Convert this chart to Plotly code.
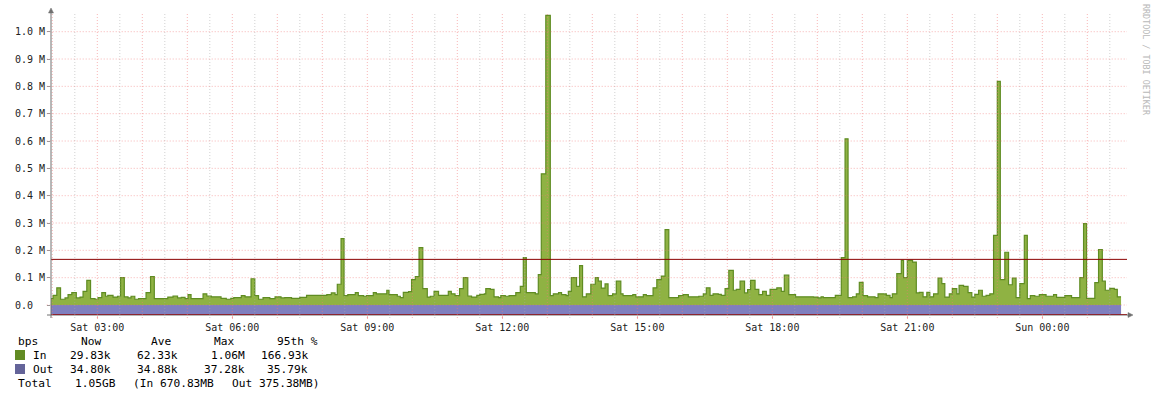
import plotly.graph_objects as go

# ---- data (time in minutes since Sat 00:00, values in kbit/s) ----
in_t = [115, 121, 126, 131, 137, 141, 146, 152, 157, 161, 166, 171, 177, 181, 186, 191, 194, 201, 207, 211,
        216, 221, 225, 230, 235, 245, 251, 256, 274, 281, 287, 292, 297, 301, 305, 321, 326, 332, 345, 352,
        358, 362, 372, 377, 385, 390, 395, 401, 410, 417, 425, 430, 439, 450, 459, 486, 492, 497, 500, 505,
        509, 514, 524, 528, 535, 539, 548, 552, 566, 569, 580, 584, 588, 595, 599, 604, 609, 614, 620, 624,
        629, 635, 648, 652, 657, 663, 668, 674, 679, 686, 690, 696, 698, 704, 709, 715, 718, 724, 729, 738,
        744, 748, 752, 764, 768, 772, 778, 784, 788, 795, 799, 805, 808, 812, 819, 823, 827, 832, 838, 844,
        848, 852, 857, 861, 867, 872, 878, 881, 894, 898, 908, 912, 921, 926, 932, 937, 942, 955, 961, 968,
        982, 988, 992, 997, 1001, 1008, 1012, 1017, 1022, 1028, 1032, 1037, 1043, 1047, 1051, 1057, 1062, 1067, 1072, 1077,
        1086, 1092, 1096, 1102, 1111, 1135, 1141, 1145, 1148, 1164, 1172, 1177, 1181, 1187, 1192, 1196, 1201, 1207, 1217, 1221,
        1232, 1237, 1240, 1246, 1252, 1255, 1260, 1267, 1272, 1276, 1281, 1286, 1290, 1295, 1301, 1306, 1310, 1316, 1320, 1326,
        1329, 1335, 1341, 1346, 1350, 1355, 1360, 1365, 1370, 1375, 1380, 1384, 1390, 1395, 1400, 1405, 1410, 1416, 1420, 1424,
        1430, 1436, 1445, 1455, 1459, 1470, 1479, 1490, 1495, 1499, 1510, 1515, 1520, 1524, 1530, 1536, 1540]
in_v = [23, 35, 63, 21, 26, 38, 45, 26, 29, 50, 90, 23, 21, 27, 45, 32, 35, 29, 32, 100,
        30, 26, 32, 21, 23, 45, 104, 23, 29, 33, 26, 28, 23, 38, 23, 41, 33, 30, 24, 21,
        24, 27, 34, 30, 96, 34, 21, 27, 23, 30, 26, 27, 24, 28, 35, 38, 44, 38, 76, 243,
        34, 38, 45, 34, 32, 34, 45, 41, 54, 38, 32, 27, 46, 49, 93, 104, 210, 60, 29, 32,
        50, 35, 50, 41, 34, 60, 100, 33, 29, 35, 39, 41, 60, 57, 30, 27, 34, 32, 34, 45,
        68, 173, 45, 41, 111, 480, 1060, 34, 41, 45, 38, 34, 50, 100, 68, 144, 30, 41, 76, 100,
        87, 62, 77, 34, 41, 87, 41, 34, 38, 30, 38, 34, 63, 93, 106, 276, 27, 34, 38, 30,
        32, 41, 63, 35, 41, 39, 35, 60, 127, 54, 57, 87, 44, 56, 90, 57, 38, 50, 35, 57,
        63, 50, 109, 38, 30, 29, 26, 30, 27, 35, 173, 608, 27, 30, 41, 83, 34, 30, 27, 41,
        35, 27, 41, 115, 163, 100, 163, 157, 44, 46, 30, 46, 30, 41, 98, 78, 29, 41, 60, 41,
        72, 68, 45, 29, 39, 54, 32, 35, 41, 255, 818, 93, 193, 74, 98, 27, 78, 255, 23, 34,
        32, 38, 32, 38, 28, 34, 27, 100, 298, 24, 82, 203, 87, 54, 61, 57, 30]
in_end = 1545

out_t = [115, 400, 700, 1000, 1300]
out_v = [34.9, 35.1, 34.7, 35.0, 34.8]
out_end = 1545

p95_in = 166.93
p95_out = 35.79

x_tick_hours = [3, 6, 9, 12, 15, 18, 21, 24]
x_tick_labels = ["Sat 03:00", "Sat 06:00", "Sat 09:00", "Sat 12:00",
                 "Sat 15:00", "Sat 18:00", "Sat 21:00", "Sun 00:00"]
y_ticks = [0, 100, 200, 300, 400, 500, 600, 700, 800, 900, 1000]
y_tick_labels = ["0.0\u00a0\u00a0", "0.1 M", "0.2 M", "0.3 M", "0.4 M", "0.5 M",
                 "0.6 M", "0.7 M", "0.8 M", "0.9 M", "1.0 M"]

legend_header = ["bps", "Now", "Ave", "Max", "95th %"]
legend_in = ["In", "29.83k", "62.33k", "1.06M", "166.93k"]
legend_out = ["Out", "34.80k", "34.88k", "37.28k", "35.79k"]
legend_total = ["Total", "1.05GB", "(In 670.83MB", "Out 375.38MB)"]

# ---- styling ----
GREEN_FILL = "#8FB243"
GREEN_LINE = "#5F8C22"
GREEN_BOX = "#628B23"
PURPLE_FILL = "#7F7FBF"
PURPLE_BOX = "#646499"
MGRID = "rgba(240,120,120,0.55)"
GRID = "rgba(170,170,170,0.55)"
P95 = "#8B0000"
AXIS = "#707070"
MONO = "DejaVu Sans Mono"

X_RANGE = [1.9711, 25.882]
Y_RANGE = [-36.6, 1068.4]

L, R, T, B = 51, 1127, 13, 315
W, H = R - L, B - T


def px(x):
    return (x - L) / W


def py(y):
    return (B - y) / H


fig = go.Figure()

# Out (drawn below zero)
ox = [t / 60 for t in out_t] + [out_end / 60]
oy = [-v for v in out_v] + [-out_v[-1]]
fig.add_trace(go.Scatter(x=ox, y=oy, mode="lines", line=dict(shape="hv", width=0.5, color=PURPLE_FILL),
                         fill="tozeroy", fillcolor=PURPLE_FILL, hoverinfo="skip"))
# In
ix = [t / 60 for t in in_t] + [in_end / 60]
iy = in_v + [in_v[-1]]
fig.add_trace(go.Scatter(x=ix, y=iy, mode="lines", line=dict(shape="hv", width=1.2, color=GREEN_LINE),
                         fill="tozeroy", fillcolor=GREEN_FILL, hoverinfo="skip"))
# 95th percentile lines
fig.add_trace(go.Scatter(x=X_RANGE, y=[p95_in, p95_in], mode="lines",
                         line=dict(color=P95, width=1), hoverinfo="skip"))
fig.add_trace(go.Scatter(x=X_RANGE, y=[-p95_out, -p95_out], mode="lines",
                         line=dict(color=P95, width=1), hoverinfo="skip"))

shapes = []
# grid on top of the areas (as rrdtool does)
h = 2.0
while h <= X_RANGE[1]:
    col = MGRID if abs(h - round(h)) < 1e-9 else GRID
    shapes.append(dict(type="line", xref="x", yref="paper", x0=h, x1=h, y0=-0.01, y1=1,
                       line=dict(color=col, width=1, dash="1px,2px"), layer="above"))
    h += 0.5
for yv in y_ticks:
    shapes.append(dict(type="line", xref="paper", yref="y", x0=-0.004, x1=1, y0=yv, y1=yv,
                       line=dict(color=MGRID, width=1, dash="1px,2px"), layer="above"))
# axes with arrows
shapes.append(dict(type="line", xref="paper", yref="paper", x0=px(47), x1=px(1130), y0=py(315), y1=py(315),
                   line=dict(color=AXIS, width=1), layer="below"))
shapes.append(dict(type="line", xref="paper", yref="paper", x0=px(51), x1=px(51), y0=py(318), y1=py(11),
                   line=dict(color=AXIS, width=1), layer="above"))
shapes.append(dict(type="path", xref="paper", yref="paper",
                   path=f"M {px(48.5)} {py(13)} L {px(53.5)} {py(13)} L {px(51)} {py(8)} Z",
                   fillcolor=AXIS, line=dict(color=AXIS, width=0.5), layer="above"))
shapes.append(dict(type="path", xref="paper", yref="paper",
                   path=f"M {px(1128)} {py(312.5)} L {px(1128)} {py(317.5)} L {px(1133)} {py(315)} Z",
                   fillcolor=AXIS, line=dict(color=AXIS, width=0.5), layer="above"))
# legend colour boxes
shapes.append(dict(type="rect", xref="paper", yref="paper", x0=px(15), x1=px(25), y0=py(360), y1=py(350),
                   fillcolor=GREEN_BOX, line=dict(width=0)))
shapes.append(dict(type="rect", xref="paper", yref="paper", x0=px(15), x1=px(25), y0=py(374), y1=py(364),
                   fillcolor=PURPLE_BOX, line=dict(width=0)))

ann = []


def txt(s, x, y, anchor="left", size=11.2, color="#000000"):
    ann.append(dict(text=s, xref="paper", yref="paper", x=px(x), y=py(y), xanchor=anchor, yanchor="middle",
                    showarrow=False, font=dict(family=MONO, size=size, color=color)))


row_y = [341, 355, 369, 383]
txt(legend_header[0], 16, row_y[0])
for s, x in zip(legend_header[1:], [79, 149, 212, 275]):
    txt(s, x, row_y[0])
txt(legend_in[0], 31, row_y[1])
for s, x in zip(legend_in[1:], [113, 180, 247, 310]):
    txt(s, x, row_y[1], anchor="right")
txt(legend_out[0], 31, row_y[2])
for s, x in zip(legend_out[1:], [113, 180, 247, 310]):
    txt(s, x, row_y[2], anchor="right")
for s, x in zip(legend_total, [16, 72.5, 131, 230]):
    txt(s, x, row_y[3])

ann.append(dict(text="RRDTOOL / TOBI OETIKER", xref="paper", yref="paper", x=px(1146), y=py(60),
                xanchor="center", yanchor="middle", textangle=90, showarrow=False,
                font=dict(family=MONO, size=8.4, color="#B8B8B8")))

fig.update_layout(
    width=1156, height=397,
    margin=dict(l=L, r=1156 - R, t=T, b=397 - B, pad=0, autoexpand=False),
    paper_bgcolor="white", plot_bgcolor="white",
    showlegend=False,
    shapes=shapes, annotations=ann,
    xaxis=dict(range=X_RANGE, showgrid=False, zeroline=False, showline=False,
               tickmode="array", tickvals=x_tick_hours, ticktext=x_tick_labels,
               ticks="outside", ticklen=3, tickcolor=MGRID,
               tickfont=dict(family=MONO, size=10, color="#222222")),
    yaxis=dict(range=Y_RANGE, showgrid=False, zeroline=False, showline=False,
               tickmode="array", tickvals=y_ticks, ticktext=y_tick_labels,
               ticks="outside", ticklen=3, tickcolor="#999999",
               tickfont=dict(family=MONO, size=10, color="#222222")),
)

fig.write_html("out.html", config={"displayModeBar": False},
               post_script="document.body.style.margin='0';document.body.style.overflow='hidden';")
